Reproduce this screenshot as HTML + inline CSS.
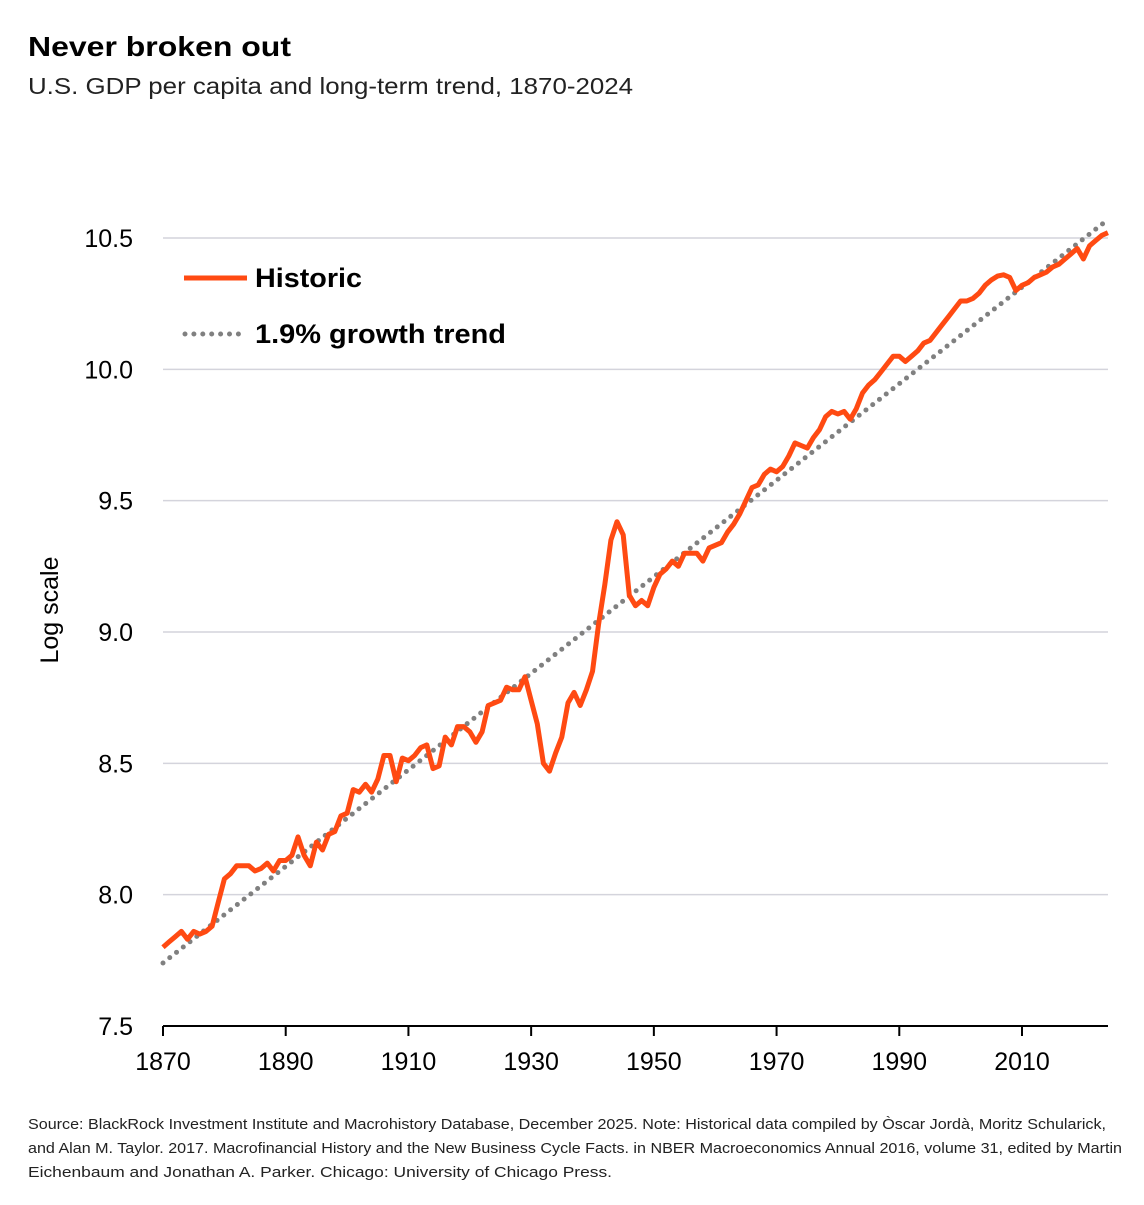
<!DOCTYPE html>
<html><head><meta charset="utf-8"><style>
body{margin:0;background:#fff;width:1144px;height:1200px;overflow:hidden;font-family:"Liberation Sans",sans-serif}
</style></head><body>
<svg width="1144" height="1200" viewBox="0 0 1144 1200">
<text x="28" y="56" font-size="28" font-weight="bold" fill="#000" textLength="263" lengthAdjust="spacingAndGlyphs">Never broken out</text>
<text x="28" y="94" font-size="23" fill="#222" textLength="605" lengthAdjust="spacingAndGlyphs">U.S. GDP per capita and long-term trend, 1870-2024</text>
<g id="grid"></g>
<g id="yt"></g>
<g id="xt"></g>
<text transform="translate(58,610) rotate(-90)" text-anchor="middle" font-size="25" fill="#000">Log scale</text>
<g id="series"></g>
<g>
<line x1="184" y1="278" x2="247" y2="278" stroke="#ff4a12" stroke-width="5"/>
<text x="255" y="287" font-size="27" font-weight="bold" textLength="107" lengthAdjust="spacingAndGlyphs">Historic</text>
<line x1="185" y1="334" x2="247" y2="334" stroke="#808080" stroke-width="5" stroke-linecap="round" stroke-dasharray="0 8.9"/>
<text x="255" y="343" font-size="27" font-weight="bold" textLength="251" lengthAdjust="spacingAndGlyphs">1.9% growth trend</text>
</g>
<g font-size="15" fill="#222">
<text x="28" y="1129" textLength="1078" lengthAdjust="spacingAndGlyphs">Source: BlackRock Investment Institute and Macrohistory Database, December 2025. Note: Historical data compiled by Òscar Jordà, Moritz Schularick,</text>
<text x="28" y="1153" textLength="1094" lengthAdjust="spacingAndGlyphs">and Alan M. Taylor. 2017. Macrofinancial History and the New Business Cycle Facts. in NBER Macroeconomics Annual 2016, volume 31, edited by Martin</text>
<text x="28" y="1177" textLength="584" lengthAdjust="spacingAndGlyphs">Eichenbaum and Jonathan A. Parker. Chicago: University of Chicago Press.</text>
</g>
</svg>
<script>
const startYear = 1870;
const historic = [7.80,7.82,7.84,7.86,7.83,7.86,7.85,7.86,7.88,7.97,
8.06,8.08,8.11,8.11,8.11,8.09,8.10,8.12,8.09,8.13,
8.13,8.15,8.22,8.15,8.11,8.20,8.17,8.23,8.24,8.30,
8.31,8.40,8.39,8.42,8.39,8.44,8.53,8.53,8.43,8.52,
8.51,8.53,8.56,8.57,8.48,8.49,8.60,8.57,8.64,8.64,
8.62,8.58,8.62,8.72,8.73,8.74,8.79,8.78,8.78,8.83,
8.74,8.65,8.50,8.47,8.54,8.60,8.73,8.77,8.72,8.78,
8.85,9.03,9.18,9.35,9.42,9.37,9.14,9.10,9.12,9.10,
9.17,9.22,9.24,9.27,9.25,9.30,9.30,9.30,9.27,9.32,
9.33,9.34,9.38,9.41,9.45,9.50,9.55,9.56,9.60,9.62,
9.61,9.63,9.67,9.72,9.71,9.70,9.74,9.77,9.82,9.84,
9.83,9.84,9.81,9.85,9.91,9.94,9.96,9.99,10.02,10.05,
10.05,10.03,10.05,10.07,10.10,10.11,10.14,10.17,10.20,10.23,
10.26,10.26,10.27,10.29,10.32,10.34,10.355,10.36,10.35,10.30,
10.32,10.33,10.35,10.36,10.37,10.39,10.40,10.42,10.44,10.46,
10.42,10.47,10.49,10.51,10.52];
const trendYears = [1870,2024];
const trendValues = [7.74,10.57];
const yTicks = [7.5,8.0,8.5,9.0,9.5,10.0,10.5];
const yTickLabels = ["7.5","8.0","8.5","9.0","9.5","10.0","10.5"];
const xTicks = [1870,1890,1910,1930,1950,1970,1990,2010];

const NS="http://www.w3.org/2000/svg";
const X0=163,X1=1107.9,Y0=1026,Y1=238;
const x=yr=>X0+(yr-1870)*(X1-X0)/(2024-1870);
const y=v=>Y0-(v-7.5)*(Y0-Y1)/3;
function mk(tag,parent,attrs){const e=document.createElementNS(NS,tag);for(const k in attrs)e.setAttribute(k,attrs[k]);parent.appendChild(e);return e;}
const grid=document.getElementById('grid'),yt=document.getElementById('yt'),xt=document.getElementById('xt'),ser=document.getElementById('series');
yTicks.forEach((t,i)=>{
  if(t>7.5){const l=mk('line',grid,{x1:X0,x2:1108,y1:y(t),y2:y(t),stroke:'#d4d4dc','stroke-width':1.5});
  
  }
  const tx=mk('text',yt,{x:133,y:y(t)+9,'text-anchor':'end','font-size':25,fill:'#000'});
  tx.textContent=yTickLabels[i];
  
  
});
const ax=mk('line',xt,{x1:X0,x2:1108,y1:Y0,y2:Y0,stroke:'#000','stroke-width':2});


for(let yr=1870;yr<=2020;yr+=20){
  const tk=mk('line',xt,{x1:x(yr),x2:x(yr),y1:Y0,y2:Y0+10,stroke:'#000','stroke-width':2});
  
  
}
xTicks.forEach(t=>{
  const tx=mk('text',xt,{x:x(t),y:1070,'text-anchor':'middle','font-size':25,fill:'#000'});
  tx.textContent=t;
  
  
});
const tr=mk('line',ser,{x1:x(trendYears[0]),y1:y(trendValues[0]),x2:x(trendYears[1]),y2:y(trendValues[1]),stroke:'#808080','stroke-width':5,'stroke-linecap':'round','stroke-dasharray':'0 8.6'});


const pts=historic.map((v,i)=>x(startYear+i).toFixed(1)+','+y(v).toFixed(1)).join(' ');
const hl=mk('polyline',ser,{points:pts,fill:'none',stroke:'#ff4a12','stroke-width':5,'stroke-linejoin':'round'});


</script>
</body></html>
